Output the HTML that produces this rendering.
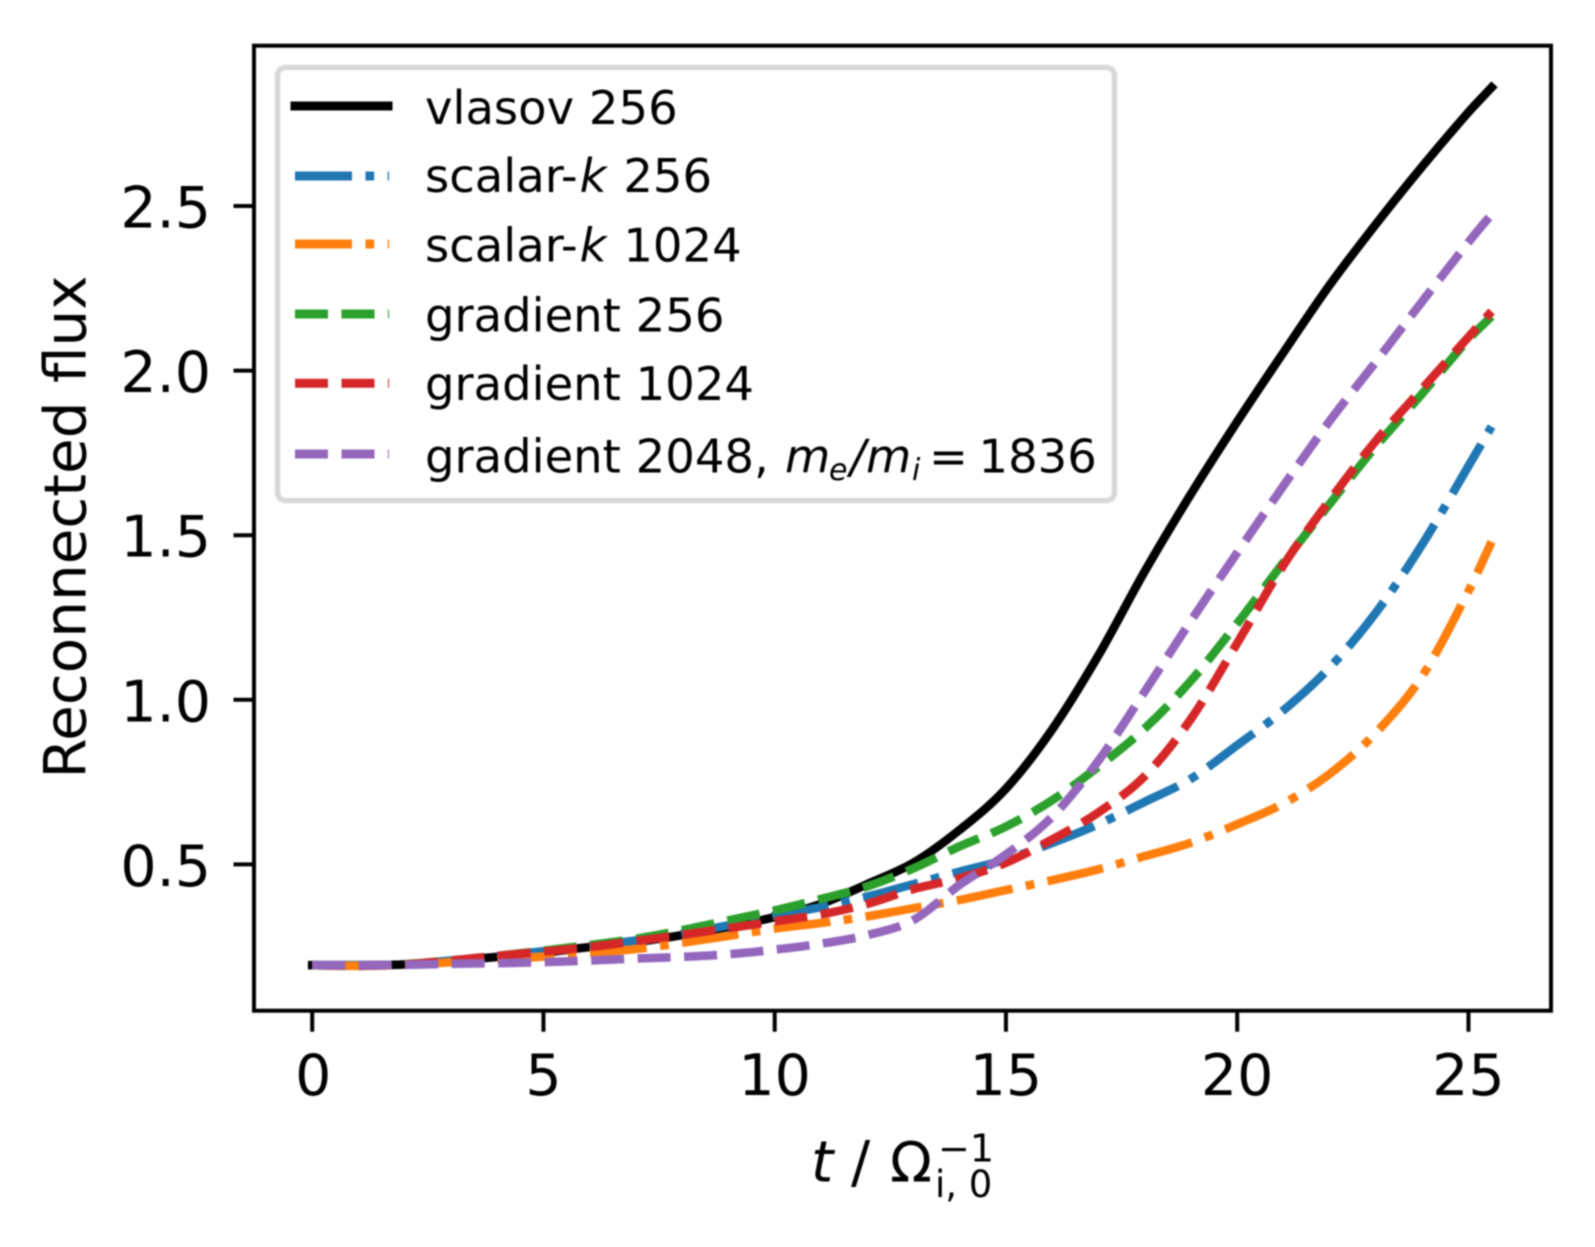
<!DOCTYPE html>
<html lang="en">
<head>
<meta charset="utf-8">
<title>Reconnected flux</title>
<style>
html,body{margin:0;padding:0;background:#fff;}
body{width:1595px;height:1247px;overflow:hidden;}
svg{display:block;filter:blur(0.9px);}
text{font-family:"DejaVu Sans","Liberation Sans",sans-serif;fill:#000;}
.leg{font-size:46.5px;}
.it{font-style:italic;}
</style>
</head>
<body>
<svg id="chart" xmlns="http://www.w3.org/2000/svg" width="1595" height="1247" viewBox="0 0 1595 1247">
  <rect x="0" y="0" width="1595" height="1247" fill="#fff"/>
  <g id="series"></g>
  <rect x="254" y="45.7" width="1297" height="965" fill="none" stroke="#000" stroke-width="4"/>
  <g id="ticks"></g>

  <text font-size="58" text-anchor="middle" transform="translate(85.5 527) rotate(-90)">Reconnected flux</text>

  <g>
    <text font-size="57" class="it" x="811" y="1181.7">t</text>
    <text font-size="57" x="851" y="1181.7">/</text>
    <text font-size="55" x="890" y="1181.7">Ω</text>
    <text font-size="38" x="938" y="1161.7">−1</text>
    <text font-size="37" x="935" y="1197">i, 0</text>
  </g>

  <g>
    <rect x="277.5" y="67.5" width="837" height="433" rx="8" ry="8" fill="#fff" stroke="#d8d8d8" stroke-width="5.5"/>

    <line x1="295" y1="106" x2="388" y2="106" stroke="#000" stroke-width="9" stroke-linecap="square"/>
    <text class="leg" x="425" y="124">vlasov 256</text>

    <line x1="295" y1="176" x2="389" y2="176" stroke="#1f77b4" stroke-width="9" stroke-dasharray="57 13.5 8.7 13.5"/>
    <text class="leg" x="425" y="192">scalar-<tspan class="it" dx="2">k</tspan><tspan dx="2"> 256</tspan></text>

    <line x1="295" y1="244" x2="389" y2="244" stroke="#ff7f0e" stroke-width="9" stroke-dasharray="57 13.5 8.7 13.5"/>
    <text class="leg" x="425" y="261.7">scalar-<tspan class="it" dx="2">k</tspan><tspan dx="2"> 1024</tspan></text>

    <line x1="295" y1="314" x2="389" y2="314" stroke="#2ca02c" stroke-width="9" stroke-dasharray="33 13.5"/>
    <text class="leg" x="425" y="331.7">gradient 256</text>

    <line x1="295" y1="383.3" x2="389" y2="383.3" stroke="#d62728" stroke-width="9" stroke-dasharray="33 13.5"/>
    <text class="leg" x="425" y="400">gradient 1024</text>

    <line x1="295" y1="454" x2="389" y2="454" stroke="#9467bd" stroke-width="9" stroke-dasharray="33 13.5"/>
    <g>
      <text class="leg" x="425" y="472.7">gradient 2048,</text>
      <text class="leg it" x="785" y="472.7">m</text>
      <text class="it" font-size="30" x="829" y="480">e</text>
      <text class="leg it" x="850" y="472.7">/</text>
      <text class="leg it" x="866" y="472.7">m</text>
      <text class="it" font-size="30" x="912" y="480">i</text>
      <text class="leg" x="929" y="472.7">=</text>
      <text class="leg" x="978.5" y="472.7">1836</text>
    </g>
  </g>
</svg>
<script>
var times = [0,1,2,3,4,5,6,7,8,9,10,11,12,13,14,15,16,17,18,19,20,21,22,23,24,25,25.5];
var vlasov256 = [.194,.194,.196,.207,.219,.232,.249,.264,.285,.31,.34,.38,.44,.505,.605,.73,.91,1.135,1.39,1.625,1.845,2.055,2.26,2.445,2.62,2.785,2.86];
var scalarK256 = [.194,.194,.196,.208,.221,.236,.252,.269,.29,.315,.345,.37,.402,.44,.478,.515,.565,.622,.69,.76,.862,.968,1.098,1.265,1.472,1.71,1.83];
var scalarK1024 = [.194,.192,.195,.203,.212,.22,.231,.243,.262,.283,.305,.322,.342,.367,.392,.422,.452,.485,.525,.566,.622,.685,.775,.9,1.072,1.33,1.48];
var gradient256 = [.194,.192,.197,.208,.222,.238,.255,.274,.3,.33,.36,.395,.433,.488,.555,.615,.695,.797,.913,1.058,1.232,1.417,1.595,1.77,1.93,2.095,2.165];
var gradient1024 = [.194,.192,.196,.208,.222,.235,.249,.267,.286,.306,.327,.348,.38,.425,.458,.505,.576,.658,.768,.942,1.172,1.409,1.606,1.787,1.945,2.102,2.18];
var gradient2048 = [.194,.194,.195,.198,.2,.203,.208,.214,.219,.227,.241,.259,.285,.331,.438,.53,.645,.815,1.025,1.24,1.447,1.65,1.847,2.027,2.21,2.39,2.475];
var xTicks = [0,5,10,15,20,25];
var yTicks = [0.5,1.0,1.5,2.0,2.5];

var NS = 'http://www.w3.org/2000/svg';
function xAxis(t){ return 312.2 + 46.25 * t; }
function yAxis(v){ return 864.4 - (v - 0.5) * 329.2; }

function smoothPath(ts, vs){
  var px = ts.map(xAxis), py = vs.map(yAxis), n = px.length, m = [], i;
  for(i = 0; i < n; i++){
    var a = Math.max(i - 1, 0), b = Math.min(i + 1, n - 1);
    m.push((py[b] - py[a]) / (px[b] - px[a]));
  }
  var d = 'M' + px[0].toFixed(2) + ' ' + py[0].toFixed(2);
  for(i = 0; i < n - 1; i++){
    var h = (px[i + 1] - px[i]) / 3;
    d += 'C' + (px[i] + h).toFixed(2) + ' ' + (py[i] + m[i] * h).toFixed(2) + ' ' +
         (px[i + 1] - h).toFixed(2) + ' ' + (py[i + 1] - m[i + 1] * h).toFixed(2) + ' ' +
         px[i + 1].toFixed(2) + ' ' + py[i + 1].toFixed(2);
  }
  return d;
}

function drawLine(name, values, color, dash, cap){
  var p = document.createElementNS(NS, 'path');
  
  
  p.setAttribute('d', smoothPath(times, values));
  p.setAttribute('fill', 'none');
  p.setAttribute('stroke', color);
  p.setAttribute('stroke-width', '8.6');
  p.setAttribute('stroke-linejoin', 'round');
  p.setAttribute('stroke-linecap', cap);
  if(dash){ p.setAttribute('stroke-dasharray', dash); }
  document.getElementById('series').appendChild(p);
}

drawLine('line-vlasov-256', vlasov256, '#000000', '', 'square');
drawLine('line-scalar-k-256', scalarK256, '#1f77b4', '57 13.5 8.7 13.5', 'butt');
drawLine('line-scalar-k-1024', scalarK1024, '#ff7f0e', '57 13.5 8.7 13.5', 'butt');
drawLine('line-gradient-256', gradient256, '#2ca02c', '33 13.5', 'butt');
drawLine('line-gradient-1024', gradient1024, '#d62728', '33 13.5', 'butt');
drawLine('line-gradient-2048', gradient2048, '#9467bd', '33 13.5', 'butt');

var tickGroup = document.getElementById('ticks');
xTicks.forEach(function(t){
  var l = document.createElementNS(NS, 'line');
  
  
  l.setAttribute('x1', xAxis(t));
  l.setAttribute('x2', xAxis(t));
  l.setAttribute('y1', 1010.7);
  l.setAttribute('y2', 1031.7);
  l.setAttribute('stroke', '#000');
  l.setAttribute('stroke-width', '4');
  tickGroup.appendChild(l);
  var s = document.createElementNS(NS, 'text');
  
  
  s.setAttribute('x', xAxis(t) + (t === 0 ? 1 : 0));
  s.setAttribute('y', 1095);
  s.setAttribute('font-size', '57');
  s.setAttribute('text-anchor', 'middle');
  s.textContent = String(t);
  tickGroup.appendChild(s);
});
yTicks.forEach(function(v){
  var l = document.createElementNS(NS, 'line');
  
  
  l.setAttribute('x1', 233.5);
  l.setAttribute('x2', 254);
  l.setAttribute('y1', yAxis(v));
  l.setAttribute('y2', yAxis(v));
  l.setAttribute('stroke', '#000');
  l.setAttribute('stroke-width', '4');
  tickGroup.appendChild(l);
  var s = document.createElementNS(NS, 'text');
  
  
  s.setAttribute('x', 211);
  s.setAttribute('y', yAxis(v) + 21.5);
  s.setAttribute('font-size', '57');
  s.setAttribute('text-anchor', 'end');
  s.textContent = v.toFixed(1);
  tickGroup.appendChild(s);
});
</script>
</body>
</html>
